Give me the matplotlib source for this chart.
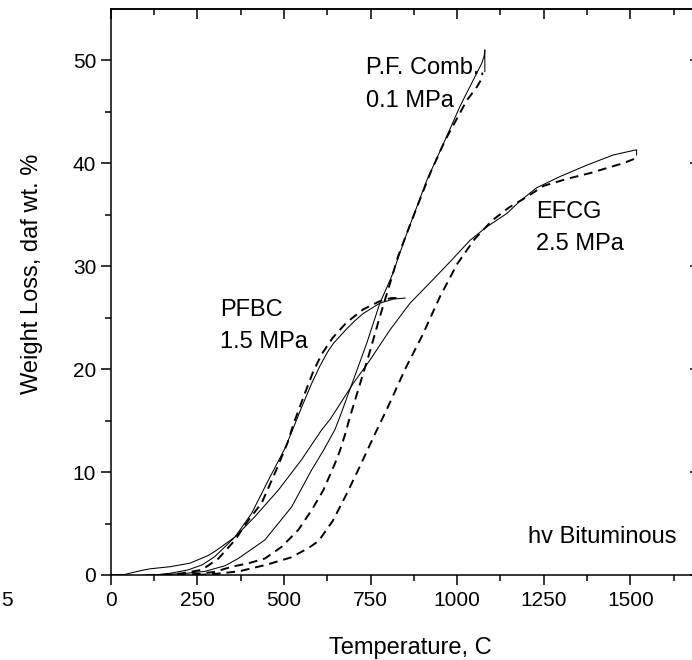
import numpy as np
import matplotlib
matplotlib.use("Agg")
import matplotlib.pyplot as plt

plt.rcParams['font.family'] = ['Liberation Sans', 'DejaVu Sans']

# weight loss (daf wt. %) vs temperature (C)
# solid = measured, dashed = predicted
pfc_T = [100, 128, 205, 272, 330, 368, 445, 522, 580, 614, 647, 662, 700, 739, 777,
         811, 854, 912, 970, 1008, 1047, 1071, 1078, 1080, 1080]
pfc_W = [0, 0.02, 0.12, 0.35, 0.9, 1.6, 3.4, 6.6, 10.2, 12.1, 14.1, 15.4, 18.9, 22.5, 26.4,
         29.0, 33.1, 38.3, 42.6, 45.5, 48.1, 49.7, 50.4, 51.0, 48.9]
pfc_T_d = [150, 250, 300, 349, 397, 445, 494, 542, 580, 614, 647, 662, 676, 691, 720, 749,
           777, 806, 830, 864, 922, 965, 999, 1028, 1057, 1071, 1073]
pfc_W_d = [0, 0.1, 0.3, 0.8, 1.13, 1.6, 2.75, 4.4, 6.3, 8.25, 10.8, 12.1, 13.6, 15.4, 18.6, 21.8,
           25.1, 28.3, 31.0, 34.0, 39.0, 42.2, 44.3, 46.1, 47.4, 48.2, 48.8]

efcg_T = [0, 40, 65, 90, 113, 171, 229, 282, 301, 359, 417, 484, 551, 609, 633, 700, 749,
          806, 864, 922, 979, 1037, 1085, 1143, 1181, 1229, 1297, 1374, 1451, 1518, 1518]
efcg_W = [0, 0.05, 0.25, 0.45, 0.6, 0.8, 1.15, 1.9, 2.3, 3.7, 5.7, 8.25, 11.2, 14.1, 15.1, 18.6, 20.9,
          23.8, 26.4, 28.4, 30.4, 32.5, 33.8, 35.1, 36.3, 37.6, 38.7, 39.8, 40.8, 41.3, 40.8]
efcg_T_d = [250, 300, 370, 450, 520, 570, 600, 640, 680, 720, 760, 800, 850, 900, 950, 1000,
            1050, 1100, 1150, 1200, 1250, 1320, 1380, 1440, 1480, 1518]
efcg_W_d = [0, 0.1, 0.35, 1.0, 1.7, 2.6, 3.3, 5.2, 7.8, 10.6, 13.5, 16.3, 20.0, 23.3, 27.0, 30.2,
            32.6, 34.4, 35.7, 36.7, 37.8, 38.5, 39.0, 39.6, 40.0, 40.5]

pfbc_T = [100, 128, 170, 224, 265, 301, 359, 407, 455, 503, 525, 550, 580, 604, 625, 643, 662,
          681, 705, 729, 777, 816, 850]
pfbc_W = [0, 0.02, 0.15, 0.5, 1.0, 1.8, 3.7, 6.0, 9.2, 12.3, 14.1, 16.2, 18.6, 20.3, 21.6, 22.5, 23.2,
          23.9, 24.7, 25.4, 26.4, 26.8, 26.9]
pfbc_T_d = [150, 205, 263, 311, 359, 397, 436, 474, 510, 530, 560, 585, 610, 640, 680, 729, 777, 810, 835]
pfbc_W_d = [0, 0.16, 0.5, 1.6, 3.4, 5.3, 7.0, 9.9, 12.8, 14.9, 17.6, 19.8, 21.5, 23.0, 24.5, 25.8, 26.6,
            26.9, 26.9]

x_ticks = [0, 250, 500, 750, 1000, 1250, 1500]
y_ticks = [0, 10, 20, 30, 40, 50]

fig = plt.figure(figsize=(6.92, 6.60), dpi=100)
# right spine sits just past the picture edge, like the scanned original
ax = fig.add_axes([0.160, 0.1288, 0.851, 0.858])

solid = dict(color='black', lw=0.75)
dashed = dict(color='black', lw=1.4, linestyle=(0, (4.5, 3)))

ax.plot(pfc_T, pfc_W, **solid)
ax.plot(pfc_T_d, pfc_W_d, **dashed)
ax.plot(efcg_T, efcg_W, **solid)
ax.plot(efcg_T_d, efcg_W_d, **dashed)
ax.plot(pfbc_T, pfbc_W, **solid)
ax.plot(pfbc_T_d, pfbc_W_d, **dashed)

ax.set_xlim(0, 1700)
ax.set_ylim(0, 55)
ax.set_xticks(x_ticks)
ax.set_yticks(y_ticks)
ax.set_xticks(np.arange(125, 1700, 250), minor=True)
ax.set_yticks(np.arange(5, 55, 10), minor=True)

for s in ax.spines.values():
    s.set_linewidth(1.1)

ax.tick_params(axis='both', which='both', width=1.1, labelsize=15)
ax.tick_params(axis='both', which='major', length=7.5)
ax.tick_params(axis='both', which='minor', length=4)
ax.tick_params(axis='x', which='both', direction='out', top=False, pad=4)
ax.tick_params(axis='y', which='both', direction='out', right=False, pad=3)

# inward ticks on top and right
sec_x = ax.secondary_xaxis('top')
sec_x.set_xticks(x_ticks + [1750])
sec_x.set_xticks(np.arange(125, 1700, 250), minor=True)
sec_x.tick_params(which='both', direction='in', labeltop=False, width=1.1)
sec_x.tick_params(which='major', length=7.5)
sec_x.tick_params(which='minor', length=4)
sec_x.spines['top'].set_linewidth(1.1)
sec_y = ax.secondary_yaxis('right')
sec_y.set_yticks(y_ticks)
sec_y.set_yticks(np.arange(5, 55, 10), minor=True)
sec_y.tick_params(which='both', direction='in', labelright=False, width=1.1)
sec_y.tick_params(which='major', length=7.5)
sec_y.tick_params(which='minor', length=4)

fs = 17
ax.text(737, 48.7, 'P.F. Comb.', fontsize=fs, va='baseline')
ax.text(737, 45.5, '0.1 MPa', fontsize=fs, va='baseline')
ax.text(1228, 34.7, 'EFCG', fontsize=fs, va='baseline')
ax.text(1228, 31.6, '2.5 MPa', fontsize=fs, va='baseline')
ax.text(316, 25.2, 'PFBC', fontsize=fs, va='baseline')
ax.text(316, 22.0, '1.5 MPa', fontsize=fs, va='baseline')
ax.text(1205, 3.1, 'hv Bituminous', fontsize=fs, va='baseline')

fig.text(410 / 692, 1 - 654 / 660, 'Temperature, C', fontsize=fs, ha='center', va='baseline')
fig.text(32 / 692, 1 - 274 / 660, 'Weight Loss, daf wt. %', fontsize=fs,
         rotation=90, ha='center', va='center')
# tick label of the neighbouring panel at the left edge
fig.text(1 / 692, 1 - 600 / 660, '5', fontsize=15, ha='left', va='center')

fig.savefig('out.png', dpi=100)
